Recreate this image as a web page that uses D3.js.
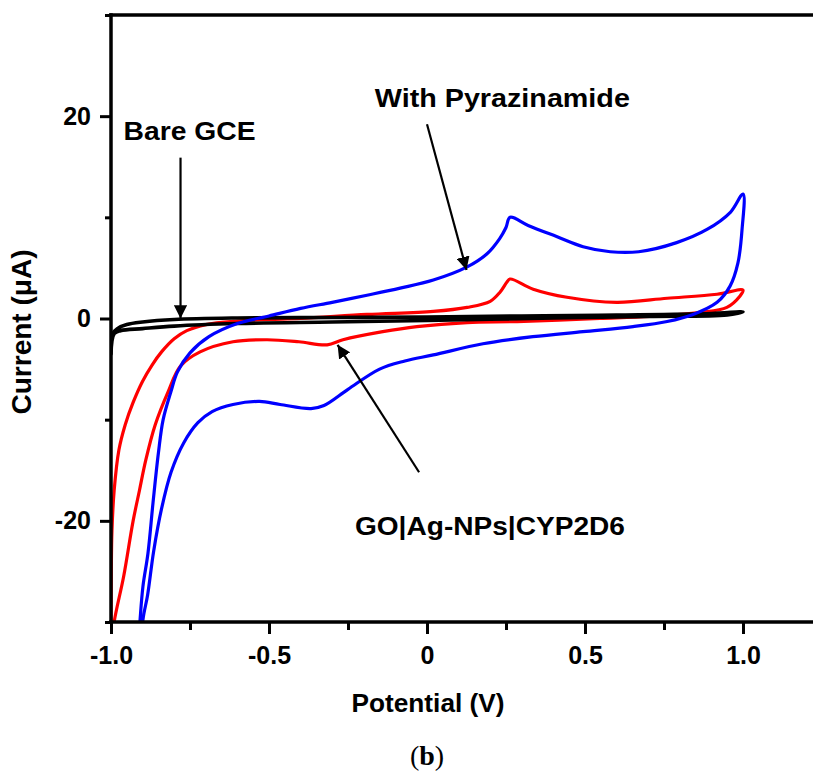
<!DOCTYPE html>
<html>
<head>
<meta charset="utf-8">
<script src="https://cdn.jsdelivr.net/npm/d3@7"></script>
<style>
  html, body { margin: 0; padding: 0; background: #fff; }
  svg { display: block; }
</style>
</head>
<body>
<svg id="chart" width="813" height="780"></svg>
<script>
// ---------- DATA ----------
// Potential (V) and current (µA) for each cyclic voltammogram, in scan order.
const blueV = [-0.915,-0.908,-0.899,-0.883,-0.867,-0.85,-0.835,-0.81,-0.79,-0.75,-0.69,-0.6,-0.5,-0.4,-0.3,-0.19,-0.085,0.02,0.127,0.19,0.23,0.25,0.263,
               0.32,0.41,0.494,0.58,0.67,0.79,0.886,0.96,1.0,
               0.997,0.984,0.959,0.918,0.842,0.76,0.652,0.494,0.335,0.177,0.02,-0.07,-0.15,-0.25,-0.326,-0.367,-0.465,-0.53,-0.614,-0.68,-0.725,-0.77,-0.81,-0.84,-0.865,-0.884,-0.899,-0.905];
const blueI = [-33,-29.8,-26.5,-23.2,-18.2,-13.3,-10,-7.2,-5.3,-3.4,-1.8,-0.5,0.25,1.0,1.6,2.3,3.0,3.8,5.1,6.4,7.9,9.0,10.0,
               9.2,8.1,7.1,6.6,6.6,7.5,8.8,10.5,12.3,
               8.8,5.5,3.2,1.6,0.4,-0.3,-0.8,-1.3,-1.8,-2.5,-3.6,-4.2,-5.0,-7.0,-8.6,-8.9,-8.5,-8.2,-8.5,-9.2,-10.3,-12.3,-15.2,-18.8,-23.0,-27.3,-29.8,-33];

const redV = [-1.0,-0.999,-0.997,-0.99,-0.975,-0.955,-0.93,-0.9,-0.87,-0.84,-0.8,-0.76,-0.7,-0.6,-0.5,-0.4,-0.19,0.02,0.127,0.2,0.231,0.253,0.263,
              0.336,0.443,0.6,0.76,0.918,1.0,
              0.99,0.949,0.864,0.706,0.547,0.285,0.127,-0.032,-0.14,-0.266,-0.316,-0.405,-0.506,-0.614,-0.718,-0.78,-0.82,-0.86,-0.89,-0.91,-0.93,-0.96,-0.99,-1.0];
const redI = [-34,-25,-21,-17,-13,-10.5,-8.3,-6.2,-4.6,-3.3,-2.0,-1.2,-0.6,-0.25,-0.1,0.0,0.4,0.7,1.1,1.7,2.6,3.6,3.9,
              2.9,2.1,1.6,2.0,2.4,2.8,
              2.2,1.1,0.6,0.2,0.0,-0.3,-0.4,-0.8,-1.3,-2.1,-2.6,-2.3,-2.1,-2.3,-3.3,-4.7,-7.3,-10.5,-14,-17,-20,-25.5,-30,-33];

const blackV = [-1.0,-0.995,-0.98,-0.95,-0.9,-0.8,-0.6,-0.3,0.0,0.3,0.6,0.9,1.0,
                0.95,0.7,0.4,0.0,-0.3,-0.6,-0.8,-0.9,-0.97,-0.99,-1.0];
const blackI = [-3.5,-1.5,-1.0,-0.6,-0.35,-0.1,0.05,0.1,0.15,0.25,0.35,0.5,0.65,
                0.35,0.2,0.05,-0.2,-0.35,-0.5,-0.75,-1.0,-1.2,-1.5,-3.5];

// Axis ticks
const xMajorTicks = [-1.0, -0.5, 0, 0.5, 1.0];
const xMajorLabels = ["-1.0", "-0.5", "0", "0.5", "1.0"];
const xMinorTicks = [-0.75, -0.25, 0.25, 0.75, 1.25];
const yMajorTicks = [-20, 0, 20];
const yMajorLabels = ["-20", "0", "20"];
const yMinorTicks = [-30, -10, 10, 30];

// Annotations
const annotations = [
  { text: "Bare GCE", x: -0.96, y: 17.6, len: 132, from: [-0.78, 15.9], to: [-0.78, 0.0] },
  { text: "With Pyrazinamide", x: -0.165, y: 20.9, len: 255, from: [0.0, 19.2], to: [0.125, 4.8] },
  { text: "GO|Ag-NPs|CYP2D6", x: -0.228, y: -21.4, len: 270, from: [-0.025, -15.2], to: [-0.283, -2.6] }
];

// ---------- LAYOUT ----------
const svg = d3.select("#chart");
const x = d3.scaleLinear().domain([-1.0, 1.25]).range([111, 822]);
const y = d3.scaleLinear().domain([-30, 30]).range([622, 15]);
const FONT = "'Liberation Sans', Arial, sans-serif";

svg.append("defs").append("clipPath").attr("id", "plotclip")
  .append("rect")
  .attr("x", x(-1.0)).attr("y", y(30))
  .attr("width", x(1.25) - x(-1.0)).attr("height", y(-30) - y(30));

svg.select("defs").append("marker")
  .attr("id", "arrow").attr("viewBox", "0 0 10 10")
  .attr("refX", 10).attr("refY", 5)
  .attr("markerWidth", 6).attr("markerHeight", 6)
  .attr("markerUnits", "strokeWidth")
  .attr("orient", "auto")
  .append("path").attr("d", "M0,0 L10,5 L0,10 z").attr("fill", "#000");

// ---------- CURVES ----------
const line = d3.line()
  .x(d => x(d[0])).y(d => y(d[1]))
  .curve(d3.curveCatmullRom.alpha(0.5));

const series = [
  { v: redV, i: redI, color: "#ff0000", w: 3.2 },
  { v: blackV, i: blackI, color: "#000000", w: 3.6 },
  { v: blueV, i: blueI, color: "#0000ff", w: 3.2 }
];
const curves = svg.append("g").attr("clip-path", "url(#plotclip)");
series.forEach(s => {
  const pts = s.v.map((v, k) => [v, s.i[k]]);
  curves.append("path")
    .attr("d", line(pts))
    .attr("fill", "none")
    .attr("stroke", s.color)
    .attr("stroke-width", s.w)
    .attr("stroke-linejoin", "round")
    .attr("stroke-linecap", "round");
});

// ---------- AXES ----------
function styleAxis(g) {
  g.select(".domain").remove();
  g.selectAll(".tick line").attr("stroke", "#000").attr("stroke-width", 3);
  g.selectAll(".tick text")
    .attr("fill", "#000")
    .style("font-family", FONT)
    .style("font-weight", "bold")
    .style("font-size", "25px");
}

svg.append("g").attr("transform", `translate(0,${y(-30)})`)
  .call(d3.axisBottom(x).tickValues(xMajorTicks).tickSize(12).tickPadding(12)
    .tickFormat((d, k) => xMajorLabels[k]))
  .call(styleAxis);
svg.append("g").attr("transform", `translate(0,${y(-30)})`)
  .call(d3.axisBottom(x).tickValues(xMinorTicks).tickSize(8).tickFormat(""))
  .call(styleAxis);

svg.append("g").attr("transform", `translate(${x(-1.0)},0)`)
  .call(d3.axisLeft(y).tickValues(yMajorTicks).tickSize(11).tickPadding(9)
    .tickFormat((d, k) => yMajorLabels[k]))
  .call(styleAxis);
svg.append("g").attr("transform", `translate(${x(-1.0)},0)`)
  .call(d3.axisLeft(y).tickValues(yMinorTicks).tickSize(6).tickFormat(""))
  .call(styleAxis);

// Frame lines
const frame = svg.append("g").attr("stroke", "#000").attr("stroke-width", 3.5).attr("stroke-linecap", "square");
frame.append("line").attr("x1", x(-1.0)).attr("x2", x(-1.0)).attr("y1", y(30)).attr("y2", y(-30));
frame.append("line").attr("x1", x(-1.0)).attr("x2", x(1.25)).attr("y1", y(-30)).attr("y2", y(-30));
frame.append("line").attr("x1", x(-1.0)).attr("x2", x(1.25)).attr("y1", y(30)).attr("y2", y(30));
frame.append("line").attr("x1", x(1.25)).attr("x2", x(1.25)).attr("y1", y(30)).attr("y2", y(-30));

// Axis titles
svg.append("text")
  .attr("x", 428).attr("y", 712)
  .attr("text-anchor", "middle")
  .attr("textLength", 153).attr("lengthAdjust", "spacingAndGlyphs")
  .style("font-family", FONT).style("font-weight", "bold").style("font-size", "26px")
  .text("Potential (V)");

svg.append("text")
  .attr("transform", "translate(31,332) rotate(-90)")
  .attr("text-anchor", "middle")
  .attr("textLength", 165).attr("lengthAdjust", "spacingAndGlyphs")
  .style("font-family", FONT).style("font-weight", "bold").style("font-size", "27px")
  .text("Current (μA)");

// Panel label
const lab = svg.append("text")
  .attr("x", 427).attr("y", 765)
  .attr("text-anchor", "middle")
  .style("font-family", "'Liberation Serif', 'Times New Roman', serif")
  .style("font-size", "28px");
lab.append("tspan").text("(");
lab.append("tspan").style("font-weight", "bold").text("b");
lab.append("tspan").text(")");

// ---------- ANNOTATIONS ----------
const ann = svg.append("g");
annotations.forEach(a => {
  ann.append("text")
    .attr("x", x(a.x)).attr("y", y(a.y))
    .attr("textLength", a.len).attr("lengthAdjust", "spacingAndGlyphs")
    .style("font-family", FONT).style("font-weight", "bold").style("font-size", "26px")
    .text(a.text);
  ann.append("line")
    .attr("x1", x(a.from[0])).attr("y1", y(a.from[1]))
    .attr("x2", x(a.to[0])).attr("y2", y(a.to[1]))
    .attr("stroke", "#000").attr("stroke-width", 2.2)
    .attr("marker-end", "url(#arrow)");
});
</script>
</body>
</html>
